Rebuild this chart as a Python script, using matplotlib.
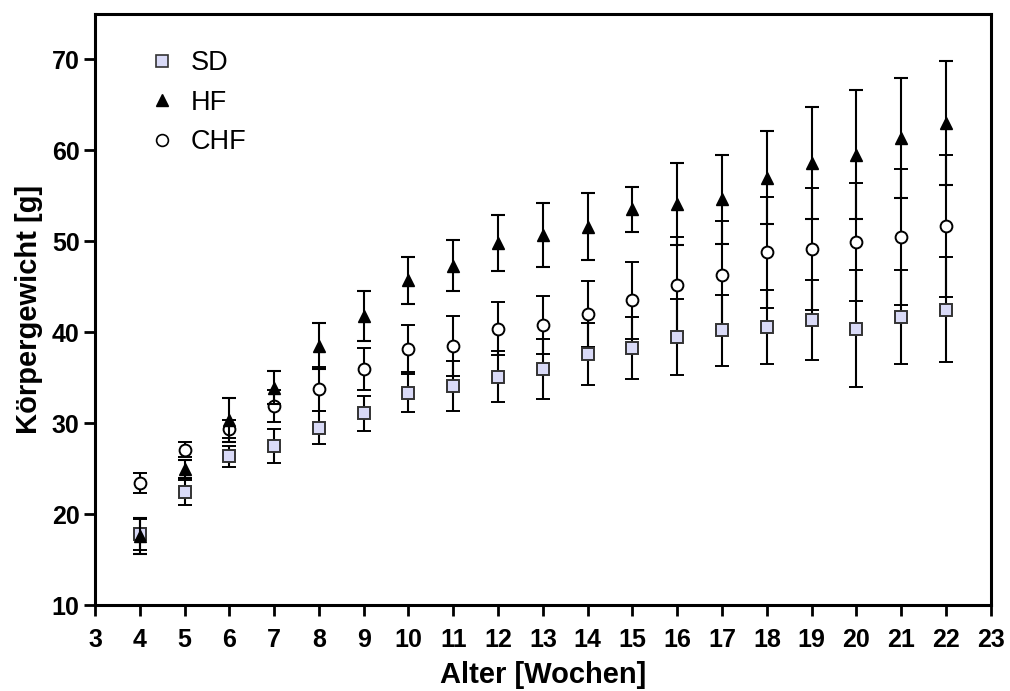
import matplotlib
matplotlib.use("Agg")
import matplotlib.pyplot as plt
from matplotlib.lines import Line2D
import numpy as np

plt.rcParams['font.family'] = ['Liberation Sans', 'DejaVu Sans']

# Data
weeks = np.arange(4, 23)

sd_mean = [17.8, 22.4, 26.4, 27.5, 29.5, 31.1, 33.3, 34.1, 35.1, 36.0,
           37.6, 38.3, 39.5, 40.2, 40.6, 41.4, 40.4, 41.7, 42.5]
sd_err = [1.7, 1.4, 1.15, 1.9, 1.8, 1.9, 2.1, 2.8, 2.8, 3.3,
          3.4, 3.4, 4.2, 3.9, 4.1, 4.4, 6.4, 5.2, 5.8]

hf_mean = [17.6, 25.0, 30.4, 33.9, 38.5, 41.8, 45.7, 47.3, 49.8, 50.7,
           51.6, 53.5, 54.1, 54.6, 57.0, 58.6, 59.5, 61.4, 63.0]
hf_err = [2.0, 1.0, 2.4, 1.8, 2.5, 2.7, 2.6, 2.8, 3.1, 3.5,
          3.7, 2.5, 4.5, 4.9, 5.1, 6.2, 7.1, 6.6, 6.8]

chf_mean = [23.4, 27.1, 29.4, 31.9, 33.8, 36.0, 38.2, 38.5, 40.4, 40.8,
            42.0, 43.5, 45.2, 46.3, 48.8, 49.2, 49.9, 50.5, 51.7]
chf_err = [1.1, 0.85, 1.0, 1.8, 2.4, 2.3, 2.6, 3.3, 2.9, 3.2,
           3.6, 4.2, 5.3, 5.9, 6.1, 6.7, 6.5, 7.5, 7.8]

labels = ['SD', 'HF', 'CHF']
sq_fill = '#d9daf7'

fig = plt.figure(figsize=(10.1, 6.91), dpi=100)
ax = fig.add_axes([0.094, 0.124, 0.887, 0.856])

eb = dict(ecolor='black', elinewidth=1.5, capsize=5, capthick=1.5, linestyle='none')

# CHF (open circles)
ax.errorbar(weeks, chf_mean, yerr=chf_err, marker='o', markersize=8.5,
            markerfacecolor='white', markeredgecolor='black', markeredgewidth=1.4,
            zorder=2, **eb)
# SD (lavender squares)
ax.errorbar(weeks, sd_mean, yerr=sd_err, marker='s', markersize=8.5,
            markerfacecolor=sq_fill, markeredgecolor='#333333', markeredgewidth=1.4,
            zorder=3, **eb)
# HF (filled triangles)
ax.errorbar(weeks, hf_mean, yerr=hf_err, marker='^', markersize=8,
            markerfacecolor='black', markeredgecolor='black',
            zorder=4, **eb)

ax.set_xlim(3, 23)
ax.set_ylim(10, 75)
ax.set_xticks(np.arange(3, 24))
ax.set_yticks(np.arange(10, 71, 10))

for s in ax.spines.values():
    s.set_linewidth(2.2)
ax.tick_params(direction='out', length=8, width=2, labelsize=18, pad=3)
ax.tick_params(axis='x', pad=8)
for t in ax.get_xticklabels() + ax.get_yticklabels():
    t.set_fontweight('bold')

ax.set_xlabel('Alter [Wochen]', fontsize=21, fontweight='bold', labelpad=7)
ax.set_ylabel('Körpergewicht [g]', fontsize=21, fontweight='bold', labelpad=6)

# Legend (markers only)
handles = [
    Line2D([], [], marker='s', linestyle='none', markersize=9,
           markerfacecolor=sq_fill, markeredgecolor='#333333', markeredgewidth=1.2),
    Line2D([], [], marker='^', linestyle='none', markersize=8,
           markerfacecolor='black', markeredgecolor='black'),
    Line2D([], [], marker='o', linestyle='none', markersize=8.5,
           markerfacecolor='white', markeredgecolor='black', markeredgewidth=1.2),
]
ax.legend(handles, labels, loc='upper left', bbox_to_anchor=(0.033, 0.98),
          frameon=False, fontsize=19.5, handletextpad=0.55, labelspacing=0.5,
          handlelength=1.0)

fig.savefig('out.png', dpi=100)
